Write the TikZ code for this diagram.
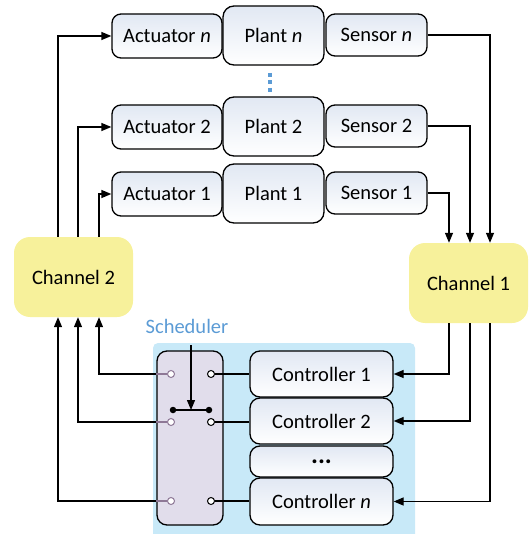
\documentclass[tikz,border=0pt]{standalone}
\usepackage{fontspec}
\setmainfont{Carlito}
\usetikzlibrary{arrows.meta}
\definecolor{chyel}{HTML}{F7F19B}
\definecolor{bgblue}{HTML}{C8E9F8}
\definecolor{schfill}{HTML}{E1DDEB}
\definecolor{schtxt}{HTML}{5B9BD5}
\definecolor{pgray}{HTML}{8E7896}
\definecolor{boxtop}{HTML}{E1E8F3}
\begin{document}
\begin{tikzpicture}[x=1pt,y=-1pt,
  every node/.style={font=\fontsize{20.5}{24}\selectfont},
  gbox/.style={draw, line width=1.3pt, rounded corners=9pt, top color=boxtop, bottom color=white, inner sep=0pt},
  chan/.style={fill=chyel, rounded corners=16pt, minimum width=119pt, minimum height=80pt, inner sep=0pt},
  conn/.style={line width=1.3pt, -{Triangle[length=10pt,width=8pt]}},
  ln/.style={line width=1.3pt},
  lcirc/.style={circle, draw=pgray, fill=white, line width=1pt, minimum size=7pt, inner sep=0pt},
  rcirc/.style={circle, draw=black, fill=white, line width=1pt, minimum size=7pt, inner sep=0pt},
  sdot/.style={circle, fill=black, minimum size=6.5pt, inner sep=0pt}]
\useasboundingbox (0,0) rectangle (529,534);

% blue background
\fill[bgblue, rounded corners=5pt] (153,343) rectangle (415,545);

% plants rows
\node[gbox, minimum width=110pt, minimum height=44pt] (an) at (167,36) {Actuator \textit{n}};
\node[gbox, minimum width=101pt, minimum height=59pt, rounded corners=11pt] (pn) at (273.5,35.5) {Plant \textit{n}};
\node[gbox, minimum width=101pt, minimum height=42pt] (sn) at (376.5,35) {Sensor \textit{n}};

\node[gbox, minimum width=110pt, minimum height=44pt] (a2) at (167,127) {Actuator 2};
\node[gbox, minimum width=101pt, minimum height=59pt, rounded corners=11pt] (p2) at (273.5,126.5) {Plant 2};
\node[gbox, minimum width=101pt, minimum height=42pt] (s2) at (376.5,126) {Sensor 2};

\node[gbox, minimum width=110pt, minimum height=44pt] (a1) at (167,194) {Actuator 1};
\node[gbox, minimum width=101pt, minimum height=59pt, rounded corners=11pt] (p1) at (273.5,193.5) {Plant 1};
\node[gbox, minimum width=101pt, minimum height=42pt] (s1) at (376.5,193) {Sensor 1};

\draw[schtxt, line width=4pt, dash pattern=on 4pt off 3.5pt] (270,73) -- (270,93);

% channels
\node[chan] (ch2) at (73.5,277) {Channel 2};
\node[chan] (ch1) at (468.5,283) {Channel 1};

% lanes
\coordinate (xa) at (99,0);
\coordinate (xb) at (78,0);
\coordinate (xc) at (58,0);
\coordinate (ya) at (449,0);
\coordinate (yb) at (470,0);
\coordinate (yc) at (490,0);

% scheduler
\node[draw, fill=schfill, line width=1.3pt, rounded corners=10pt, minimum width=66pt, minimum height=174pt] (sch) at (190,438) {};
\node[text=schtxt] (schl) at (187,326) {Scheduler};

% controllers
\node[gbox, rounded corners=10pt, minimum width=143pt, minimum height=46pt] (c1) at (321.5,374) {Controller 1};
\node[gbox, rounded corners=10pt, minimum width=143pt, minimum height=46pt] (c2) at (321.5,421) {Controller 2};
\node[gbox, rounded corners=10pt, minimum width=143pt, minimum height=31pt] (cd) at (321.5,461.5) {\fontsize{26}{26}\selectfont\textbf{...}};
\node[gbox, rounded corners=10pt, minimum width=143pt, minimum height=47pt] (cn) at (321.5,501.5) {Controller \textit{n}};

% circles
\node[lcirc] (l1) at (171,374) {};
\node[lcirc] (l2) at (171,422) {};
\node[lcirc] (ln) at (171,501) {};
\node[rcirc] (r1) at (211,374) {};
\node[rcirc] (r2) at (211,422) {};
\node[rcirc] (rn) at (211,501) {};

\draw[ln] (r1) -- (c1.west |- r1);
\draw[ln] (r2) -- (c2.west |- r2);
\draw[ln] (rn) -- (cn.west |- rn);
\draw[ln, pgray] (l1) -- (sch.west |- l1);
\draw[ln, pgray] (l2) -- (sch.west |- l2);
\draw[ln, pgray] (ln) -- (sch.west |- ln);

% switch
\node[sdot] (sw1) at (173,410) {};
\node[sdot] (sw2) at (209,410) {};
\draw[ln] (sw1) -- (sw2);
\coordinate (swm) at (191,410);
\coordinate (schtop) at (191,345);
\draw[conn] (schtop) -- (swm);

% to Channel 2
\draw[conn] (sch.west |- l1) -| (xa |- ch2.south);
\draw[conn] (sch.west |- l2) -| (xb |- ch2.south);
\draw[conn] (sch.west |- ln) -| (xc |- ch2.south);

% channel 2 to actuators
\draw[conn] (xa |- ch2.north) |- (a1.west);
\draw[conn] (xb |- ch2.north) |- (a2.west);
\draw[conn] (xc |- ch2.north) |- (an.west);

% sensors to channel 1
\draw[conn] (s1.east) -| (ya |- ch1.north);
\draw[conn] (s2.east) -| (yb |- ch1.north);
\draw[conn] (sn.east) -| (yc |- ch1.north);

% channel 1 to controllers
\draw[conn] (ya |- ch1.south) |- (c1.east);
\draw[conn] (yb |- ch1.south) |- (c2.east);
\draw[conn] (yc |- ch1.south) |- (cn.east);
\end{tikzpicture}
\end{document}
